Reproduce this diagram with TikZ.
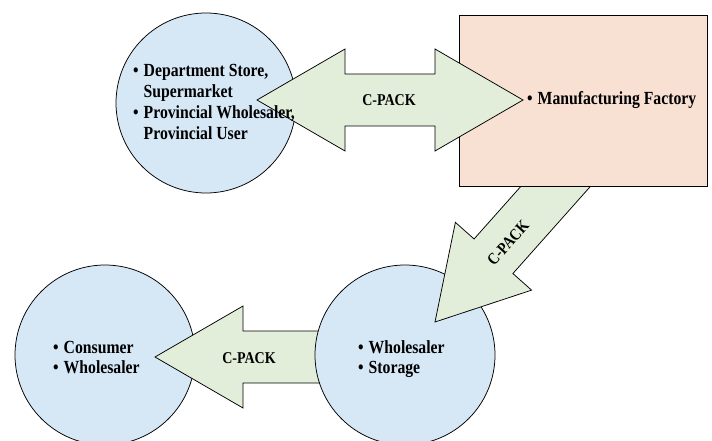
\documentclass[tikz,border=0pt]{standalone}
\usepackage{fontspec}
\setmainfont{Liberation Serif}[FakeStretch=0.85]
\usepackage{tikz}
\usetikzlibrary{calc}
\definecolor{cblue}{RGB}{214,232,246}
\definecolor{cpeach}{RGB}{248,224,211}
\definecolor{cgreen}{RGB}{226,238,217}
\tikzstyle{place}=[shape=circle,draw,fill=cblue,minimum size=180pt,inner sep=0pt,line width=0.75pt]
\tikzstyle{plant}=[shape=rectangle,draw,fill=cpeach,minimum width=248pt,minimum height=171pt,inner sep=0pt,line width=0.75pt]
\tikzstyle{pack}=[draw,fill=cgreen,line width=0.75pt,line join=miter]
\tikzstyle{txt}=[inner sep=0pt,font=\bfseries\fontsize{18.5}{20.8}\selectfont]
\tikzstyle{cp}=[inner sep=0pt,font=\bfseries\fontsize{16.5}{18}\selectfont]
\newcommand{\onearrow}[2]{%
  \coordinate (j-#2) at ($(#2)!88pt!(#1)$);
  \draw[pack] ($(#1)!26pt!90:(#2)$) -- ($(j-#2)!26pt!90:(#2)$)
    -- ($(j-#2)!51pt!90:(#2)$) -- (#2) -- ($(j-#2)!51pt!-90:(#2)$)
    -- ($(j-#2)!26pt!-90:(#2)$) -- ($(#1)!26pt!-90:(#2)$) -- cycle;}
\newcommand{\twoarrow}[2]{%
  \coordinate (j-#1) at ($(#1)!88pt!(#2)$);
  \coordinate (j-#2) at ($(#2)!88pt!(#1)$);
  \draw[pack] (#1) -- ($(j-#1)!51pt!90:(#2)$) -- ($(j-#1)!26pt!90:(#2)$)
    -- ($(j-#2)!26pt!-90:(#1)$) -- ($(j-#2)!51pt!-90:(#1)$) -- (#2)
    -- ($(j-#2)!51pt!90:(#1)$) -- ($(j-#2)!26pt!90:(#1)$)
    -- ($(j-#1)!26pt!-90:(#2)$) -- ($(j-#1)!51pt!-90:(#2)$) -- cycle;}
\newcommand{\bul}[1]{\begin{tabular}[t]{@{}l@{\hspace{5pt}}l@{}}#1\end{tabular}}

\begin{document}
\begin{tikzpicture}[x=1pt,y=-1pt]
            \useasboundingbox (0,0) rectangle (712,441);
            \coordinate (t3) at (340,357);
            \coordinate (h3) at (155,357);
            \coordinate (t2) at (588,150);
            \coordinate (h2) at (435,322);
            \coordinate (h1a) at (257,100);
            \coordinate (h1b) at (523,100);

            \node[place] (consumer) at (105,355) {};
            \onearrow{t3}{h3}
            \node[place] (wholesaler) at (405,355) {};
            \onearrow{t2}{h2}
            \node[plant] (factory) at (583,100.5) {};
            \node[place] (store) at (206,103) {};
            \twoarrow{h1a}{h1b}

            \node[txt,anchor=base west] (storetxt) at (133,77)
                {\bul{\textbullet & Department Store,\\ & Supermarket\\
                      \textbullet & Provincial Wholesaler,\\ & Provincial User}};
            \node[txt,anchor=base west] (factorytxt) at (527,105)
                {\bul{\textbullet & Manufacturing Factory}};
            \node[txt,anchor=base west] (wholesalertxt) at (358,353)
                {\bul{\textbullet & Wholesaler\\ \textbullet & Storage}};
            \node[txt,anchor=base west] (consumertxt) at (53,353)
                {\bul{\textbullet & Consumer\\ \textbullet & Wholesaler}};

            \node[cp] (pack1) at (389,100) {C-PACK};
            \node[cp,rotate=48] (pack2) at (508,243) {C-PACK};
            \node[cp] (pack3) at (249,358) {C-PACK};
        \end{tikzpicture}
\end{document}
